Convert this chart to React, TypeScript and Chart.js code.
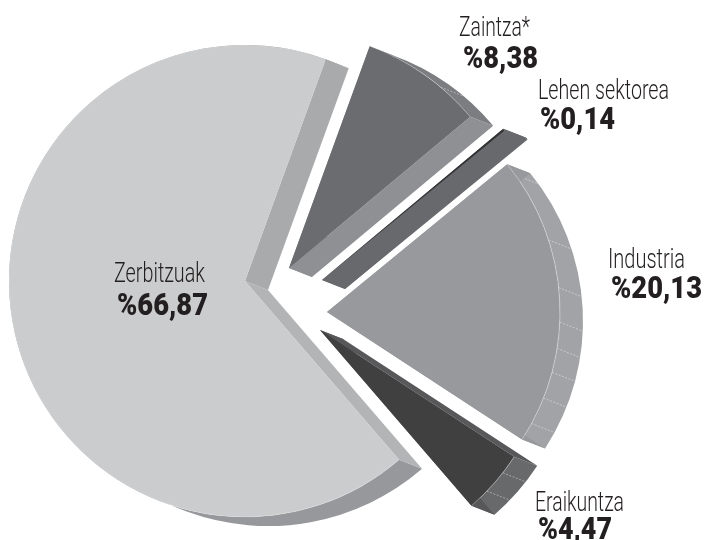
import React, { useEffect, useRef } from "react";
import { Chart, registerables } from "chart.js";

Chart.register(...registerables);

const categories = ["Zaintza*", "Lehen sektorea", "Industria", "Eraikuntza", "Zerbitzuak"];
const shares = [8.38, 0.14, 20.13, 4.47, 66.87];
const shareLabels = ["%8,38", "%0,14", "%20,13", "%4,47", "%66,87"];

const topColors = ["#6b6c6f", "#333335", "#98999c", "#404041", "#cbcccd"];
const rimColors = ["#7c7d80", "#68696c", "#a2a3a6", "#68696b", "#97989b"];
const startFaceColors = ["#8f9093", "#68696c", "#98999c", "#58585a", "#b3b4b6"];
const endFaceColors = ["#8f9093", "#68696c", "#98999c", "#58585a", "#a8aaac"];

// drawing layout (pixels): exploded apex and radius of each slice, extrusion, label boxes
const apexes = [[289, 268], [322, 280], [327, 312], [320, 330], [245, 281]];
const radii = [236, 236, 233, 232, 236];
const seamAlphas = [0.3, 0.5, 0.6, 0.6, 0.3];
const depth = { x: 23, y: 9 };
const rimTickDegrees = [[40], [], [54, 72, 84, 92.5, 99, 105, 111.7, 118.6], [128, 134], []];
const nameBoxes = [[459, 36, 71], [538, 99, 131], [608, 268, 77], [535, 511, 89], [114, 282, 91]];
const valueBoxes = [[463, 68, 75], [540, 129, 75], [611, 298, 91], [538, 539, 74], [117, 315, 91]];

function fitText(ctx: CanvasRenderingContext2D, text: string, box: number[], font: string) {
  ctx.save();
  ctx.font = font;
  ctx.fillStyle = "#231f20";
  ctx.textAlign = "left";
  ctx.textBaseline = "alphabetic";
  const natural = ctx.measureText(text).width;
  ctx.translate(box[0], box[1]);
  ctx.scale(box[2] / natural, 1);
  ctx.fillText(text, 0, 0);
  ctx.restore();
}

const piePlugin = {
  id: "extrudedPie",
  beforeDatasetsDraw(chart: any) {
    const ctx: CanvasRenderingContext2D = chart.ctx;
    const arcs = chart.getDatasetMeta(0).data;
    arcs.forEach((arc: any, i: number) => {
      const [ax, ay] = apexes[i];
      arc.x = ax;
      arc.y = ay;
      arc.outerRadius = radii[i];
      const r = arc.outerRadius;
      const s = arc.startAngle;
      const e = arc.endAngle;
      const corner = (a: number) => [ax + r * Math.cos(a), ay + r * Math.sin(a)];
      const face = (a: number, color: string) => {
        const [px, py] = corner(a);
        ctx.beginPath();
        ctx.moveTo(ax, ay);
        ctx.lineTo(px, py);
        ctx.lineTo(px + depth.x, py + depth.y);
        ctx.lineTo(ax + depth.x, ay + depth.y);
        ctx.closePath();
        ctx.fillStyle = color;
        ctx.fill();
      };
      // rim
      ctx.beginPath();
      ctx.arc(ax, ay, r, s, e);
      ctx.arc(ax + depth.x, ay + depth.y, r, e, s, true);
      ctx.closePath();
      ctx.fillStyle = rimColors[i];
      ctx.fill();
      // rim ticks
      ctx.save();
      ctx.strokeStyle = "rgba(255,255,255,0.6)";
      ctx.lineWidth = 0.7;
      ctx.setLineDash([2, 1.5]);
      rimTickDegrees[i].forEach((deg) => {
        const [px, py] = corner(((deg - 90) * Math.PI) / 180);
        ctx.beginPath();
        ctx.moveTo(px, py);
        ctx.lineTo(px + depth.x, py + depth.y);
        ctx.stroke();
      });
      ctx.restore();
      face(s, startFaceColors[i]);
      face(e, endFaceColors[i]);
      // top, drawn by the library's own arc element
      arc.draw(ctx);
      // light seam round the top face
      ctx.save();
      ctx.strokeStyle = `rgba(255,255,255,${seamAlphas[i]})`;
      ctx.lineWidth = 0.6;
      ctx.beginPath();
      ctx.arc(ax, ay, r, s, e);
      ctx.stroke();
      ctx.restore();
    });
    return false;
  },
  afterDraw(chart: any) {
    const ctx: CanvasRenderingContext2D = chart.ctx;
    categories.forEach((name, i) => {
      fitText(ctx, name, nameBoxes[i], "300 27px Roboto, 'Open Sans', sans-serif");
      fitText(ctx, shareLabels[i], valueBoxes[i], "900 31px Roboto, 'Open Sans', sans-serif");
    });
  },
};

export default function App() {
  const ref = useRef<HTMLCanvasElement>(null);
  useEffect(() => {
    const chart = new Chart(ref.current!, {
      type: "pie",
      data: {
        labels: categories,
        datasets: [{ data: shares, backgroundColor: topColors, borderWidth: 0 }],
      },
      options: {
        responsive: false,
        animation: false,
        events: [],
        rotation: 20,
        radius: 236,
        plugins: { legend: { display: false }, tooltip: { enabled: false } },
      } as any,
      plugins: [piePlugin as any],
    });
    return () => chart.destroy();
  }, []);
  return (
    <div style={{ position: "absolute", left: 0, top: 0, width: 705, height: 540, background: "#fff" }}>
      <canvas ref={ref} width={705} height={540} style={{ display: "block" }} />
    </div>
  );
}
